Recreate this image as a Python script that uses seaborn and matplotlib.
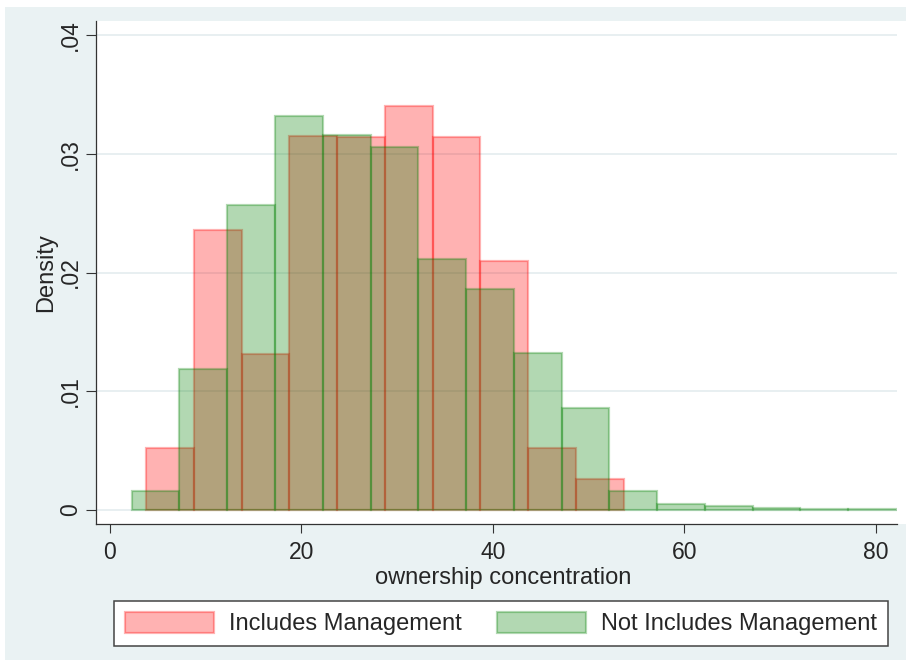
import numpy as np
import matplotlib
matplotlib.use("Agg")
import matplotlib.pyplot as plt
from matplotlib.patches import Rectangle, Patch
import seaborn as sns

# Histogram bins (ownership concentration, %) and densities per group
mgmt_edges = [3.76, 8.75, 13.74, 18.72, 23.71, 28.70, 33.69, 38.68, 43.66, 48.65, 53.64]
mgmt_density = [0.00522, 0.02355, 0.01310, 0.03150, 0.03140, 0.03405,
                0.03140, 0.02097, 0.00520, 0.00258]

nomgmt_edges = [2.26, 7.25, 12.24, 17.23, 22.22, 27.21, 32.20, 37.19, 42.18,
                47.17, 52.16, 57.15, 62.14, 67.13, 72.12, 77.11, 82.10]
nomgmt_density = [0.00160, 0.01187, 0.02568, 0.03320, 0.03160, 0.03054,
                  0.02114, 0.01858, 0.01320, 0.00860, 0.00163, 0.00048,
                  0.00036, 0.00014, 0.00006, 0.00005]

group_labels = ["Includes Management", "Not Includes Management"]
x_ticks = [0, 20, 40, 60, 80]
y_ticks = [0, 0.01, 0.02, 0.03, 0.04]
y_ticklabels = ["0", ".01", ".02", ".03", ".04"]

RED = (1.0, 0.0, 0.0, 0.3)
GREEN = (0.0, 0.5, 0.0, 0.3)
BG = "#EAF2F3"

sns.set_style("white")
plt.rcParams["font.family"] = ["Liberation Sans", "DejaVu Sans"]

W, H = 906, 660
fig = plt.figure(figsize=(W / 100, H / 100), dpi=100, facecolor="white")

# outer graph region and white plot region
fig.add_artist(Rectangle((5 / W, 0), (W - 5) / W, (H - 7) / H,
                         transform=fig.transFigure, facecolor=BG,
                         edgecolor="none", zorder=-10))
fig.add_artist(Rectangle((96 / W, (H - 524) / H), (W - 96) / W, 503 / H,
                         transform=fig.transFigure, facecolor="white",
                         edgecolor="none", zorder=-9))

ax = fig.add_axes([96 / W, (H - 524) / H, 801 / W, 503 / H])
ax.set_facecolor("none")


def centers(edges):
    e = np.asarray(edges)
    return (e[:-1] + e[1:]) / 2


sns.histplot(x=centers(mgmt_edges), weights=mgmt_density, bins=mgmt_edges,
             stat="count", ax=ax, facecolor=RED, edgecolor=RED,
             linewidth=1.6, label=group_labels[0])
sns.histplot(x=centers(nomgmt_edges), weights=nomgmt_density, bins=nomgmt_edges,
             stat="count", ax=ax, facecolor=GREEN, edgecolor=GREEN,
             linewidth=1.6, label=group_labels[1])

ax.set_xlim(-1.46, 82.2)
ax.set_ylim(-0.00118, 0.04118)

ax.set_xticks(x_ticks)
ax.set_xticklabels([str(t) for t in x_ticks])
ax.set_yticks(y_ticks)
ax.set_yticklabels(y_ticklabels, rotation=90, va="center")

ax.yaxis.grid(True, color="#E6EEF0", linewidth=1.3)
ax.xaxis.grid(False)
ax.set_axisbelow(True)

for side in ["top", "right"]:
    ax.spines[side].set_visible(False)
for side in ["left", "bottom"]:
    ax.spines[side].set_color("#333333")
    ax.spines[side].set_linewidth(0.9)

ax.tick_params(axis="x", direction="out", length=6.5, width=0.8,
               color="#333333", labelsize=16.5, pad=6, bottom=True)
ax.tick_params(axis="y", direction="out", length=7.2, width=0.8,
               color="#333333", labelsize=16.5, pad=3, left=True)

ax.set_xlabel("ownership concentration", fontsize=17)
ax.set_ylabel("Density", fontsize=17)
ax.xaxis.set_label_coords((503.5 - 96) / 801, -43 / 503)
ax.yaxis.set_label_coords(-(96 - 57) / 801, 0.5)

handles = [Patch(facecolor=RED, edgecolor=RED, linewidth=1.6),
           Patch(facecolor=GREEN, edgecolor=GREEN, linewidth=1.6)]
leg = fig.legend(handles, group_labels, loc="center",
                 bbox_to_anchor=(501 / W, (H - 623.5) / H),
                 ncol=2, fontsize=17, frameon=True, fancybox=False,
                 framealpha=1, edgecolor="#444444",
                 handlelength=3.75, handleheight=1.0, handletextpad=0.65,
                 columnspacing=1.5, borderpad=0.45)
leg.get_frame().set_linewidth(1.1)

fig.savefig("out.png", dpi=100, facecolor="white")
